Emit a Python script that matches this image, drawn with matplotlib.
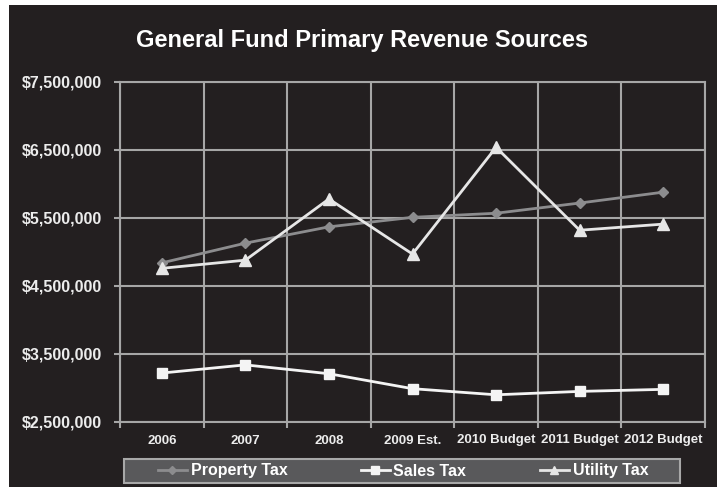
import matplotlib
matplotlib.use("Agg")
import matplotlib.pyplot as plt
from matplotlib.patches import Rectangle
from matplotlib.ticker import FuncFormatter
import numpy as np

# --- data ---
years = ["2006", "2007", "2008", "2009 Est.", "2010 Budget", "2011 Budget", "2012 Budget"]
property_tax = [4840000, 5130000, 5370000, 5510000, 5570000, 5720000, 5880000]
sales_tax = [3220000, 3340000, 3210000, 2990000, 2900000, 2950000, 2980000]
utility_tax = [4760000, 4880000, 5780000, 4970000, 6540000, 5320000, 5410000]
y_ticks = [2500000, 3500000, 4500000, 5500000, 6500000, 7500000]

BG = "#231f20"
GRID = "#a6a6a6"
plt.rcParams["font.family"] = ["Liberation Sans", "DejaVu Sans"]

fig = plt.figure(figsize=(7.22, 4.87), dpi=100)
fig.patch.set_facecolor("white")
# dark panel (slight white margin left/top/right like the scan)
fig.add_artist(Rectangle((9 / 722, 0), 708 / 722, 1 - 5 / 487, transform=fig.transFigure,
                         facecolor=BG, edgecolor="none", zorder=-10))

ax = fig.add_axes([120 / 722, 65 / 487, 585 / 722, 340 / 487])
ax.set_facecolor(BG)

x = np.arange(len(years))
ax.plot(x, property_tax, color="#8c8c8e", lw=2, marker="D", ms=5, label="Property Tax", zorder=3)
ax.plot(x, sales_tax, color="#f4f4f4", lw=2, marker="s", ms=7.5, label="Sales Tax", zorder=3)
ax.plot(x, utility_tax, color="#e6e6e6", lw=2, marker="^", ms=8, label="Utility Tax", zorder=3)

ax.set_xlim(-0.5, len(years) - 0.5)
ax.set_ylim(y_ticks[0], y_ticks[-1])
ax.set_yticks(y_ticks)
ax.yaxis.set_major_formatter(FuncFormatter(lambda v, p: "${:,.0f}".format(v)))

ax.set_xticks(x)
ax.set_xticklabels(years)
ax.set_xticks(np.arange(-0.5, len(years)), minor=True)
ax.tick_params(axis="x", which="major", length=0, pad=9, labelsize=9.5)
ax.tick_params(axis="x", which="minor", length=4, width=1.5, color=GRID, direction="out")
ax.tick_params(axis="y", length=4, width=1.5, color=GRID, labelsize=11.5, pad=9)
for lab in ax.get_xticklabels() + ax.get_yticklabels():
    lab.set_fontweight("bold")
    lab.set_color("#ececec")

ax.grid(True, axis="y", which="major", color=GRID, lw=1.5)
ax.grid(True, axis="x", which="minor", color=GRID, lw=1.5)
for s in ax.spines.values():
    s.set_color(GRID)
    s.set_linewidth(1.5)

fig.text(0.502, 1 - 41 / 487, "General Fund Primary Revenue Sources", ha="center", va="center",
         color="white", fontsize=17, fontweight="bold")

# legend box drawn separately, legend itself frameless
fig.add_artist(Rectangle((124 / 722, 1 - 483 / 487), 556 / 722, 24 / 487, transform=fig.transFigure,
                         facecolor="#59595b", edgecolor="#a8a8a8", lw=1.5, zorder=5))
leg = fig.legend(loc="center", bbox_to_anchor=(403 / 722, 1 - 471 / 487), ncol=3,
                 frameon=False, fontsize=11.5, columnspacing=4.6, handlelength=1.8,
                 handletextpad=0.25, borderpad=0.1, markerscale=0.8)
leg.set_zorder(6)
for t in leg.get_texts():
    t.set_color("white")
    t.set_fontweight("bold")

fig.savefig("out.png", dpi=100, facecolor=fig.get_facecolor())
